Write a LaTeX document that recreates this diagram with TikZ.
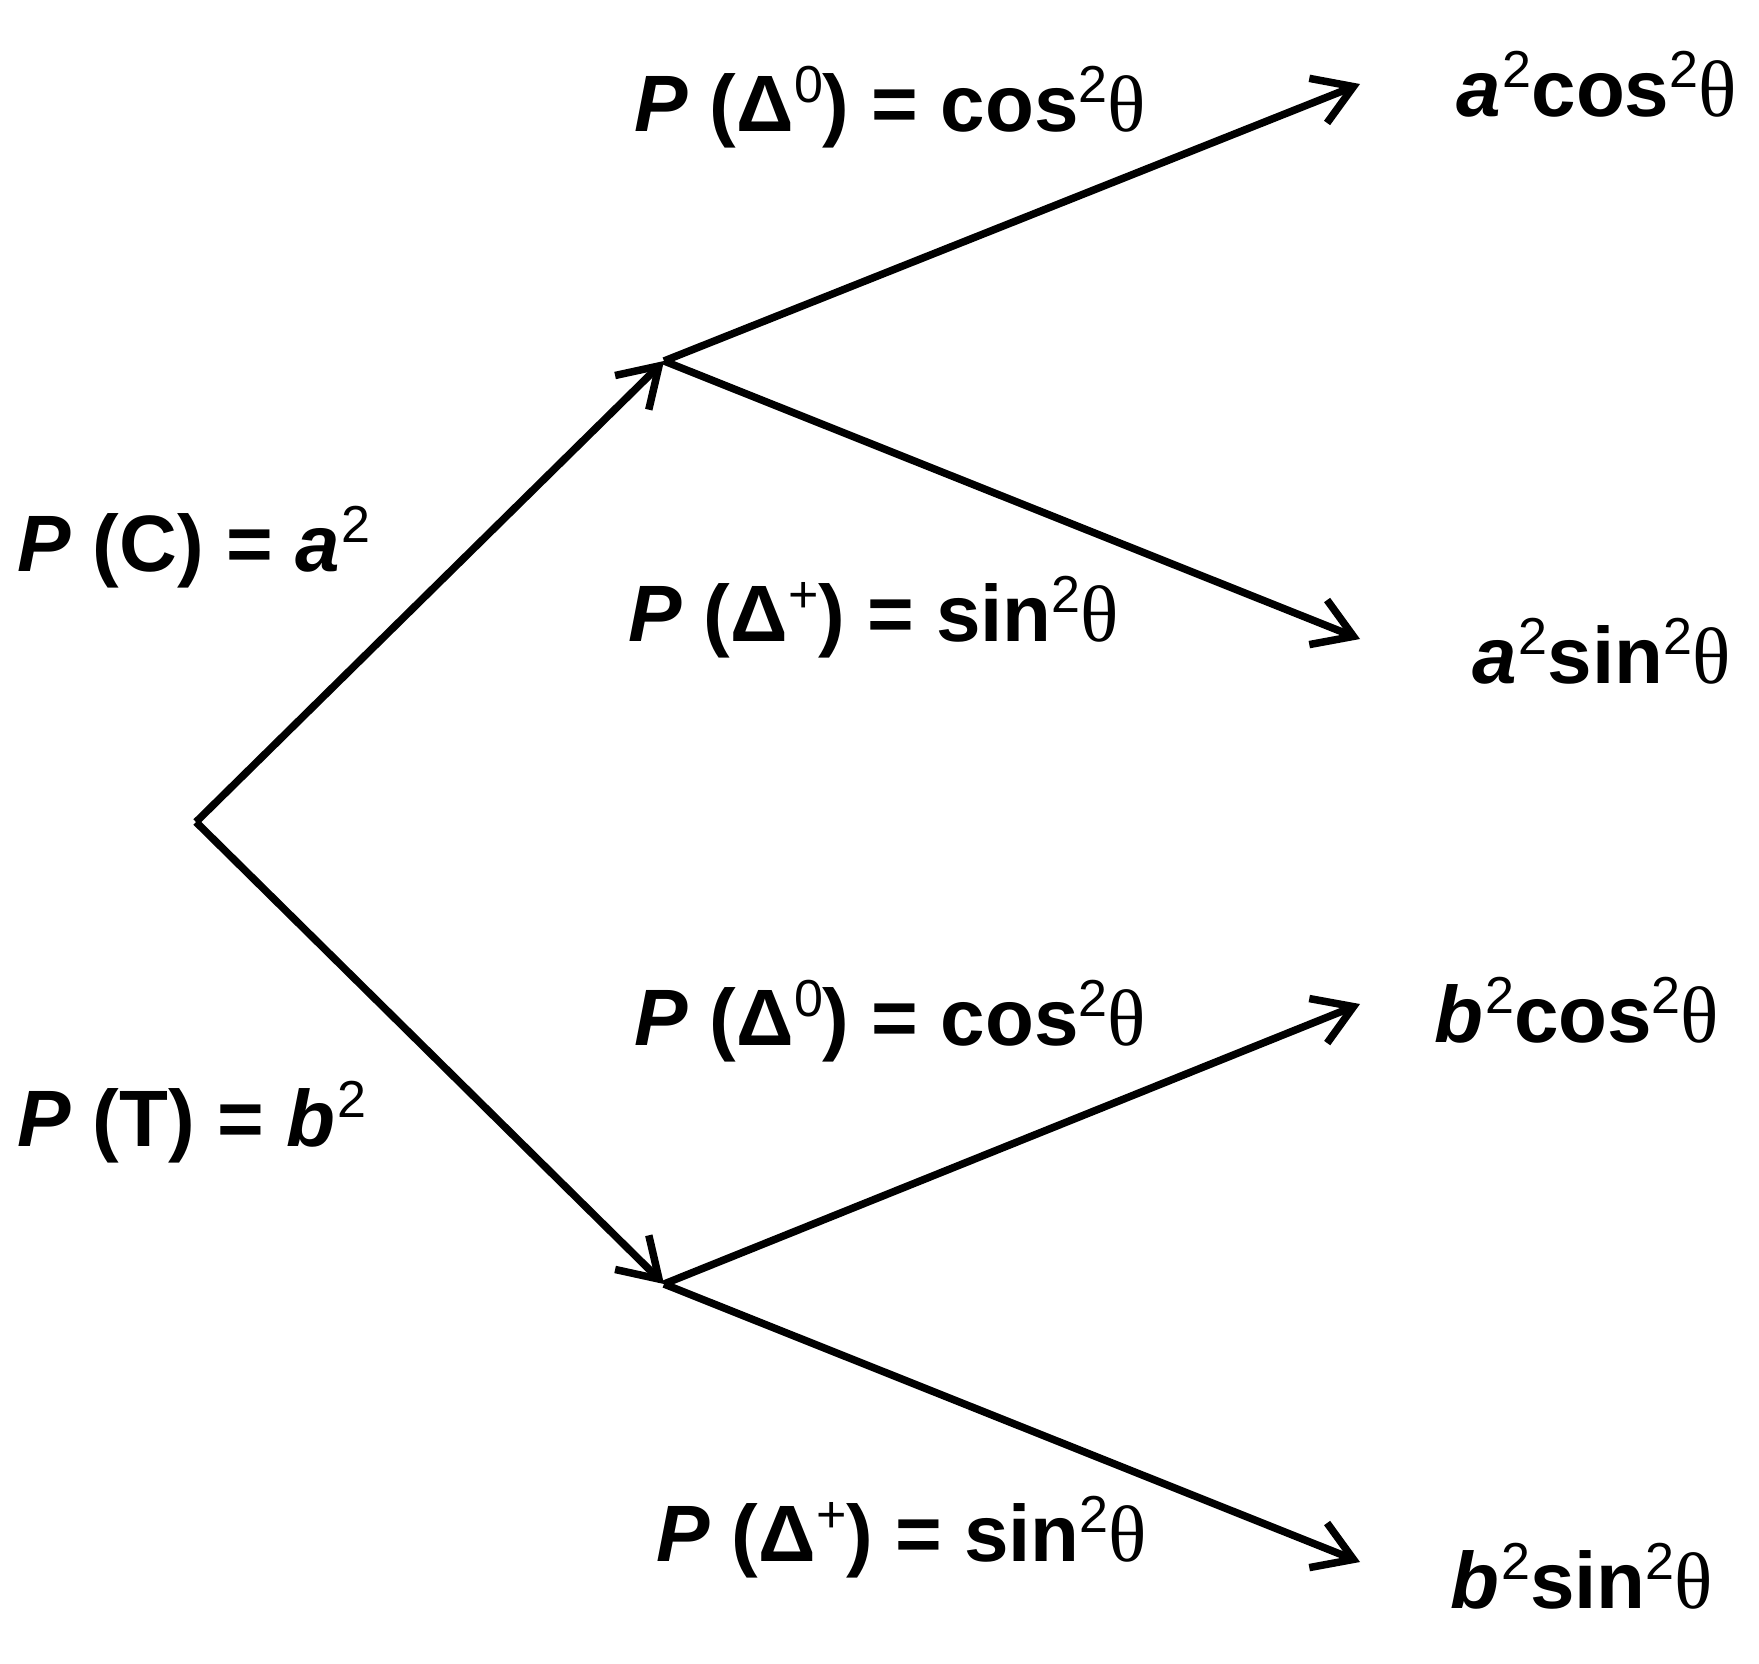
\documentclass[tikz,border=0pt]{standalone}
\usepackage{fontspec}
\setmainfont{Liberation Sans}
\newfontfamily\thetafont{Liberation Serif}
\usetikzlibrary{arrows.meta}
\newcommand\sps[1]{\raisebox{0.36em}{\fontsize{52}{52}\selectfont\mdseries\upshape #1}}
\newcommand\thet{{\thetafont\mdseries\upshape θ}}
\newcommand\iv[1]{\textit{#1}}
\newcommand\ivs[2]{\textit{#1}\kern2pt\sps{#2}}
\begin{document}
\begin{tikzpicture}[x=1pt,y=-1pt,
  lbl/.style={anchor=west,inner sep=0pt,font=\fontsize{80}{96}\selectfont\bfseries},
  branch/.style={line width=7.5pt,-{Straight Barb[length=38pt,width=48pt,line width=7.5pt]}}]
\useasboundingbox (0,0) rectangle (1759,1663);
\coordinate (root) at (196,822);
\coordinate (mu) at (664,361);
\coordinate (ml) at (664,1284);
\coordinate (tuu) at (1360,84);
\coordinate (tul) at (1360,639);
\coordinate (tlu) at (1360,1004);
\coordinate (tll) at (1360,1562);
\draw[branch] (root) -- (mu);
\draw[branch] (root) -- (ml);
\draw[branch] (mu) -- (tuu);
\draw[branch] (mu) -- (tul);
\draw[branch] (ml) -- (tlu);
\draw[branch] (ml) -- (tll);
\node[lbl] (pc) at (17,547) {\iv{P} (C) = \ivs{a}{2}};
\node[lbl] (pt) at (17,1122) {\iv{P} (T) = \ivs{b}{2}};
\node[lbl] (c1) at (634,107) {\iv{P} (Δ\sps{0}) = cos\sps{2}\thet};
\node[lbl] (s1) at (628,617) {\iv{P} (Δ\sps{+}) = sin\sps{2}\thet};
\node[lbl] (c2) at (634,1021) {\iv{P} (Δ\sps{0}) = cos\sps{2}\thet};
\node[lbl] (s2) at (656,1537) {\iv{P} (Δ\sps{+}) = sin\sps{2}\thet};
\node[lbl] (r1) at (1456,84) {\ivs{a}{2}cos\sps{2}\thet};
\node[lbl] (r2) at (1472,651) {\ivs{a}{2}sin\sps{2}\thet};
\node[lbl] (r3) at (1434,1010) {\ivs{b}{2}cos\sps{2}\thet};
\node[lbl] (r4) at (1450,1576) {\ivs{b}{2}sin\sps{2}\thet};
\end{tikzpicture}
\end{document}
